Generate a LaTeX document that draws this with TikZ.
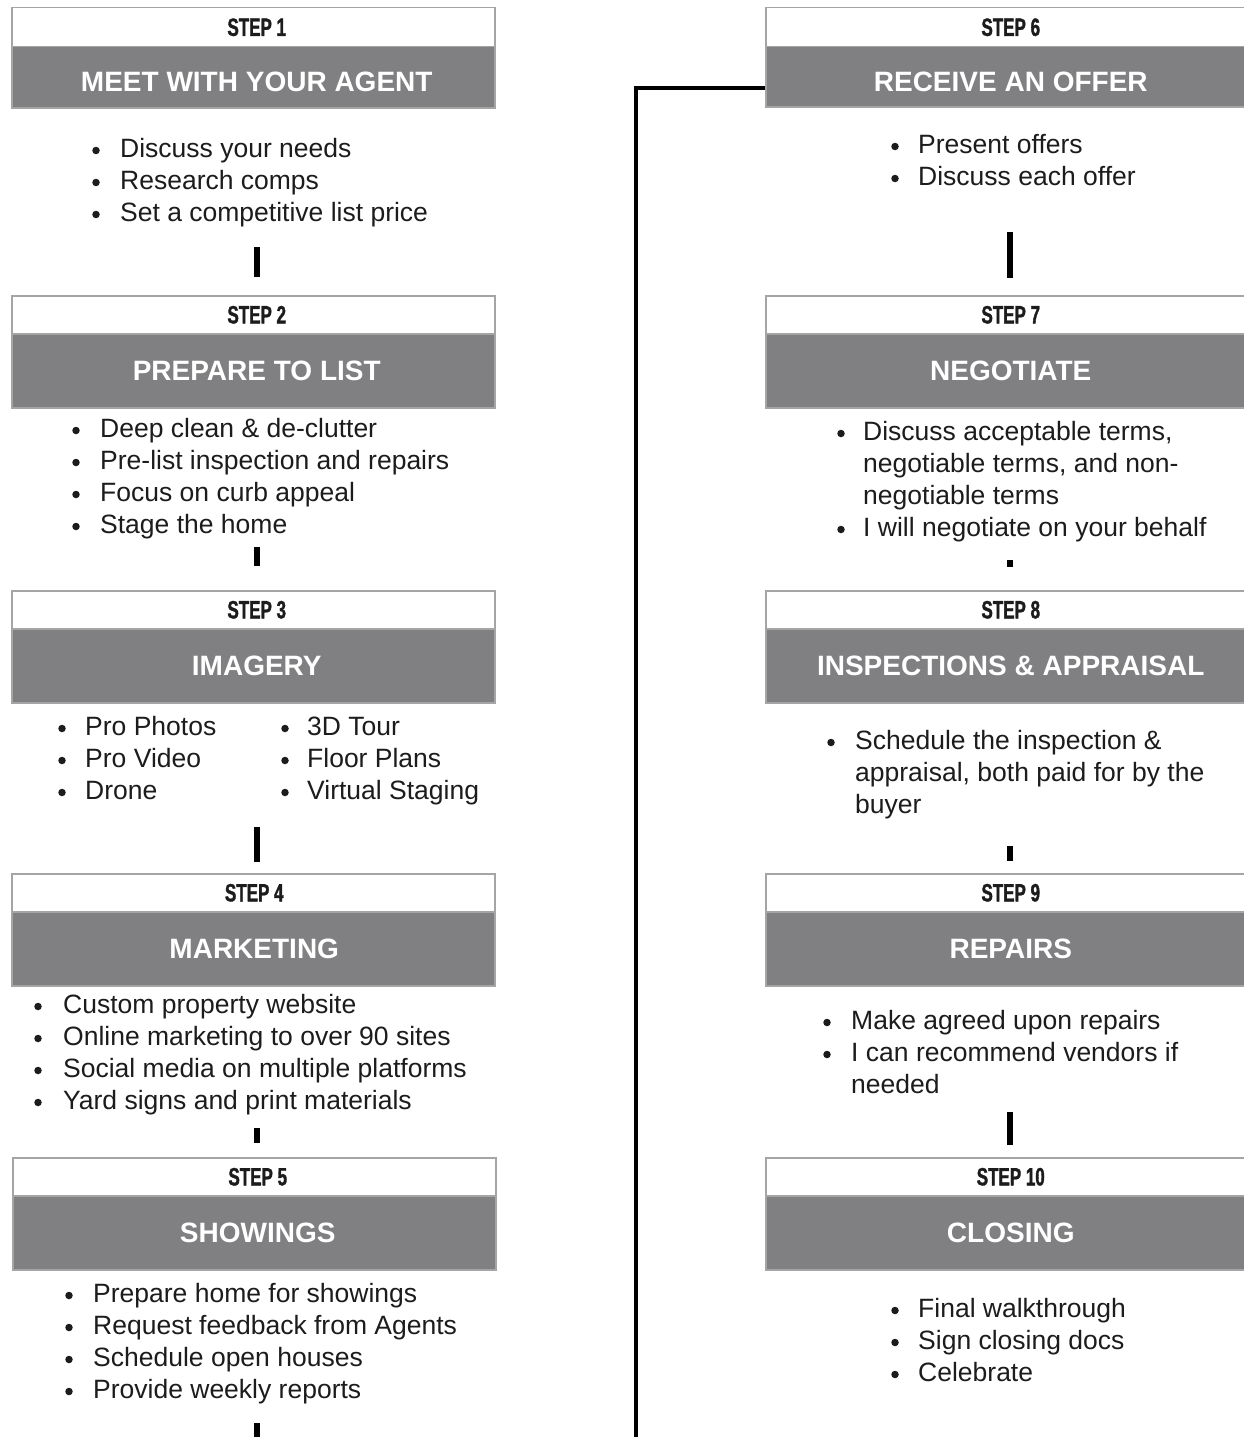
\documentclass[tikz,border=0pt]{standalone}
\usepackage{fontspec}
\setmainfont{Liberation Sans}
\newfontfamily\stepfont[FakeStretch=0.68,FakeBold=1.3]{Liberation Sans Bold}
\definecolor{bandgray}{RGB}{128,128,130}
\definecolor{edgegray}{RGB}{165,165,165}
\definecolor{ink}{RGB}{28,28,28}
\newcommand\bodyfont{\fontsize{26.5}{32}\selectfont}
\newcommand\tyoff{0}
\newcommand\stepbox[9]{%
  \node[wband, minimum width=#3pt, minimum height=#5pt] (w#1) at (#2,#4) {};
  \node[gband, minimum width=#3pt, minimum height=#6pt] (g#1) at ({#2},{#4+#5}) {};
  \node[steplbl] (l#1) at ([xshift=#9pt]w#1.center) {#7};
  \node[titlelbl] (t#1) at ([xshift=#9pt,yshift=-\tyoff pt]g#1.center) {#8};}
\newcommand\bl[5]{%
  \node[bul] (b#1) at (#2,{#4-6.5}) {};
  \node[btxt] (x#1) at (#3,#4) {#5};}
\newcommand\cl[4]{\node[btxt] (x#1) at (#2,#3) {#4};}
\begin{document}
\begin{tikzpicture}[x=1pt,y=-1pt,
  wband/.style={draw=edgegray, line width=1.5pt, fill=white, anchor=north west, inner sep=0},
  gband/.style={draw=edgegray, line width=1.5pt, fill=bandgray, anchor=north west, inner sep=0},
  steplbl/.style={inner sep=0, text=ink, font=\stepfont\fontsize{25}{27}\selectfont},
  titlelbl/.style={inner sep=0, text=white, font=\fontsize{28}{30}\selectfont\bfseries},
  bul/.style={circle, fill=ink, inner sep=0, minimum size=7.5pt},
  btxt/.style={anchor=base west, inner sep=0, text=ink, font=\bodyfont},
  bar/.style={draw=black, line width=5.5pt},
  conn/.style={draw=black, line width=4.5pt}]
\fill[white] (0,0) rectangle (1243,1437);
\useasboundingbox (0,0) rectangle (1243,1437);

% left column
\renewcommand\tyoff{5}
\stepbox{1}{11}{483}{7}{39}{61}{STEP 1}{MEET WITH YOUR AGENT}{3.5}
\renewcommand\tyoff{0}
\stepbox{2}{11}{483}{295}{38}{74}{STEP 2}{PREPARE TO LIST}{3.5}
\stepbox{3}{11}{483}{590}{38}{74}{STEP 3}{IMAGERY}{3.5}
\stepbox{4}{11}{483}{873}{38}{74}{STEP 4}{MARKETING}{1}
\stepbox{5}{12}{483}{1157}{38}{74}{STEP 5}{SHOWINGS}{3.5}
% right column
\renewcommand\tyoff{5}
\stepbox{6}{765}{490}{7}{39}{60}{STEP 6}{RECEIVE AN OFFER}{0}
\renewcommand\tyoff{0}
\stepbox{7}{765}{490}{295}{38}{74}{STEP 7}{NEGOTIATE}{0}
\stepbox{8}{765}{490}{590}{38}{74}{STEP 8}{INSPECTIONS \& APPRAISAL}{0}
\stepbox{9}{765}{490}{873}{38}{74}{STEP 9}{REPAIRS}{0}
\stepbox{10}{765}{490}{1157}{38}{74}{STEP 10}{CLOSING}{0}

% step 1
\bl{1a}{96}{120}{157}{Discuss your needs}
\bl{1b}{96}{120}{189}{Research comps}
\bl{1c}{96}{120}{221}{Set a competitive list price}
% step 2
\bl{2a}{76}{100}{437}{Deep clean \& de-clutter}
\bl{2b}{76}{100}{469}{Pre-list inspection and repairs}
\bl{2c}{76}{100}{501}{Focus on curb appeal}
\bl{2d}{76}{100}{533}{Stage the home}
% step 3
\bl{3a}{62}{85}{735}{Pro Photos}
\bl{3b}{62}{85}{767}{Pro Video}
\bl{3c}{62}{85}{799}{Drone}
\bl{3d}{285}{307}{735}{3D Tour}
\bl{3e}{285}{307}{767}{Floor Plans}
\bl{3f}{285}{307}{799}{Virtual Staging}
% step 4
\bl{4a}{38}{63}{1013}{Custom property website}
\bl{4b}{38}{63}{1045}{Online marketing to over 90 sites}
\bl{4c}{38}{63}{1077}{Social media on multiple platforms}
\bl{4d}{38}{63}{1109}{Yard signs and print materials}
% step 5
\bl{5a}{69}{93}{1302}{Prepare home for showings}
\bl{5b}{69}{93}{1334}{Request feedback from Agents}
\bl{5c}{69}{93}{1366}{Schedule open houses}
\bl{5d}{69}{93}{1398}{Provide weekly reports}
% step 6
\bl{6a}{895}{918}{153}{Present offers}
\bl{6b}{895}{918}{185}{Discuss each offer}
% step 7
\bl{7a}{841}{863}{440}{Discuss acceptable terms,}
\cl{7b}{863}{472}{negotiable terms, and non-}
\cl{7c}{863}{504}{negotiable terms}
\bl{7d}{841}{863}{536}{I will negotiate on your behalf}
% step 8
\bl{8a}{831}{855}{749}{Schedule the inspection \&}
\cl{8b}{855}{781}{appraisal, both paid for by the}
\cl{8c}{855}{813}{buyer}
% step 9
\bl{9a}{827}{851}{1029}{Make agreed upon repairs}
\bl{9b}{827}{851}{1061}{I can recommend vendors if}
\cl{9c}{851}{1093}{needed}
% step 10
\bl{10a}{895}{918}{1317}{Final walkthrough}
\bl{10b}{895}{918}{1349}{Sign closing docs}
\bl{10c}{895}{918}{1381}{Celebrate}

% short connector bars
\coordinate (p12a) at (257,247); \coordinate (p12b) at (257,277);
\coordinate (p23a) at (257,547); \coordinate (p23b) at (257,566);
\coordinate (p34a) at (257,827); \coordinate (p34b) at (257,862);
\coordinate (p45a) at (257,1128); \coordinate (p45b) at (257,1143);
\coordinate (p5xa) at (257,1423); \coordinate (p5xb) at (257,1440);
\coordinate (p67a) at (1010,232); \coordinate (p67b) at (1010,278);
\coordinate (p78a) at (1010,560); \coordinate (p78b) at (1010,567);
\coordinate (p89a) at (1010,846); \coordinate (p89b) at (1010,861);
\coordinate (p910a) at (1010,1112); \coordinate (p910b) at (1010,1145);
\foreach \s in {12,23,34,45,5x,67,78,89,910}
  \draw[bar] (p\s a) -- (p\s b);

% long connector from step 6
\coordinate (jend) at (636,1440);
\draw[conn] ([yshift=-11pt]g6.west) -| (jend);
\end{tikzpicture}
\end{document}
